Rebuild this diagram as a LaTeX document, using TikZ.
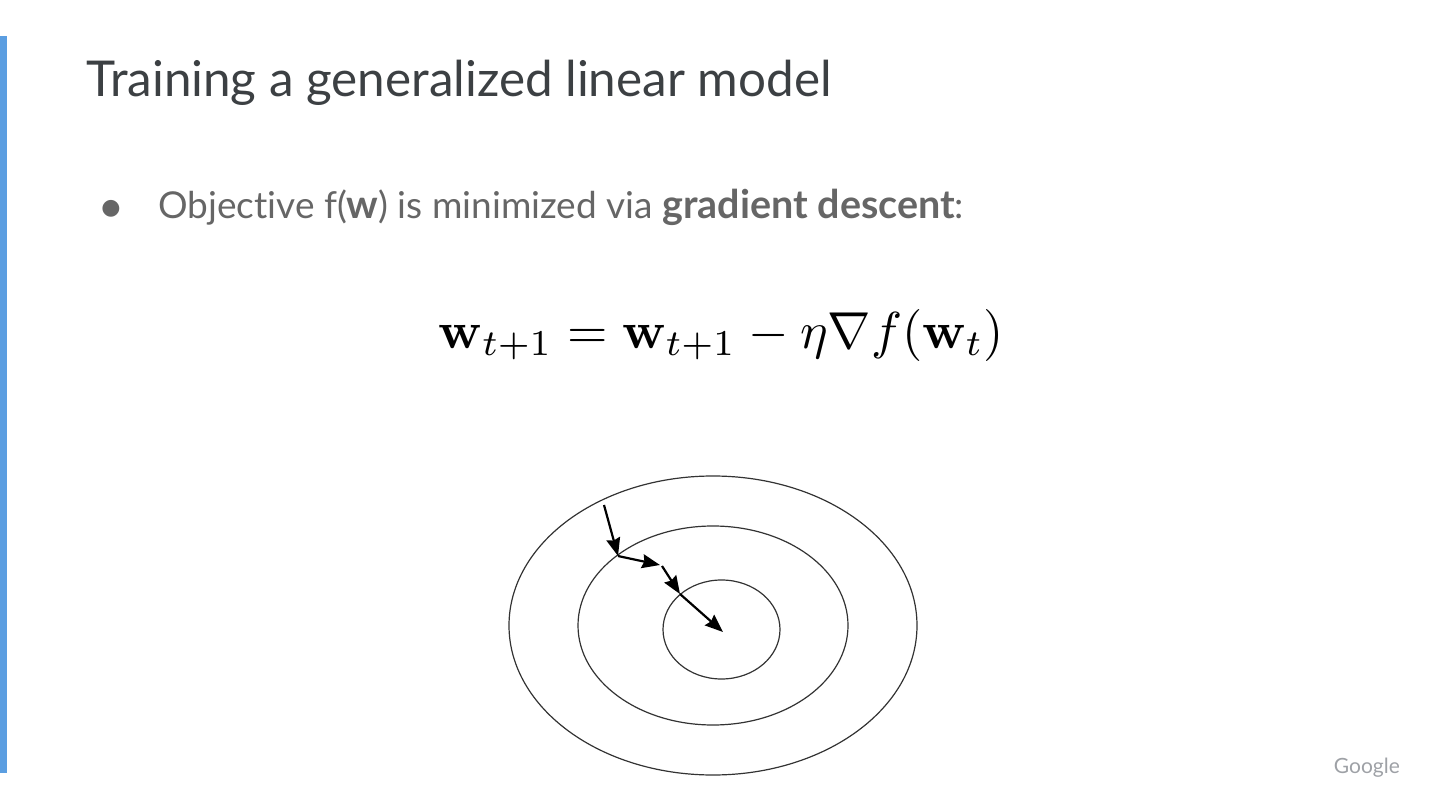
\documentclass[tikz,border=0pt]{standalone}
\usepackage[no-math]{fontspec}
\usepackage[svgnames]{xcolor}
\usepackage{tikz}
\setmainfont[Ligatures=NoCommon]{Lato}
\newfontfamily\symbolfont{DejaVu Sans}
\newcommand{\boldpart}[1]{{\fontsize{39.5}{46}\selectfont\bfseries #1}}
\definecolor{barblue}{HTML}{5B9EE1}
\definecolor{titlegray}{HTML}{3C4043}
\definecolor{bodygray}{HTML}{666666}
\definecolor{logogray}{HTML}{9EA1A6}
\usetikzlibrary{arrows.meta}
\tikzset{
    contour/.style={draw=black!80, line width=1.2pt},
    stepline/.style={-{Stealth[length=18pt,width=14pt,inset=2pt]}, line width=2.2pt, black}
}

\begin{document}
\begin{tikzpicture}[x=1pt,y=-1pt]
    \useasboundingbox (0,0) rectangle (1440,810);
    \fill[barblue] (0,36) rectangle (7,773); % side bar
    \node[anchor=base west, inner sep=0pt, text=titlegray] (title) at (86,97) {\fontsize{49.4}{58}\selectfont Training a generalized linear model};
    \node[anchor=base, inner sep=0pt, text=bodygray] (bullet) at (111,215) {\fontsize{22}{26}\selectfont\symbolfont ●};
    \node[anchor=base west, inner sep=0pt, text=bodygray] (objective) at (158,219) {\fontsize{37}{46}\selectfont Objective f(\boldpart{w}) is minimized via \boldpart{gradient descent}:};
    \node[anchor=base, inner sep=0pt, scale=5.2] (update) at (721.5,348) {$\mathbf{w}_{t+1} = \mathbf{w}_{t+1} - \eta\nabla f(\mathbf{w}_t)$};
    \node[anchor=base east, inner sep=0pt, text=logogray] (logo) at (1400,773) {\fontsize{21}{25}\selectfont Google};
    % contours
    \draw[contour] (713,625.5) ellipse (204 and 149.5); % outer
    \draw[contour] (713,625.5) ellipse (135 and 99.5); % middle
    \draw[contour] (721.5,629.5) ellipse (58.5 and 49.5); % inner
    % descent steps
    \coordinate (s0) at (604,505);
    \coordinate (s1) at (618,556);
    \coordinate (s2) at (660,565);
    \coordinate (s3) at (662,566);
    \coordinate (s4) at (680,594);
    \coordinate (s5) at (723,632);
    \draw[stepline] (s0) -- (s1);
    \draw[stepline] (s1) -- (s2);
    \draw[stepline] (s3) -- (s4);
    \draw[stepline] (s4) -- (s5);
\end{tikzpicture}
\end{document}
